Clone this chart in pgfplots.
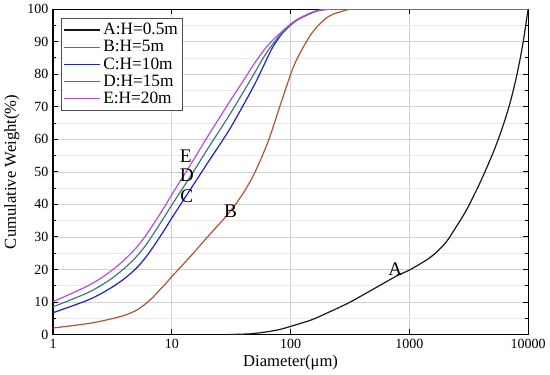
\documentclass[border=0pt]{standalone}
\usepackage{pgfplots}
\pgfplotsset{compat=1.18}
\usepackage{fontspec}
\setmainfont{Liberation Serif}
\definecolor{cA}{RGB}{15,30,22}
\definecolor{cB}{RGB}{176,84,52}
\definecolor{cC}{RGB}{30,30,210}
\definecolor{cD}{RGB}{55,125,128}
\definecolor{cE}{RGB}{178,78,228}
\begin{document}
\begin{tikzpicture}
\begin{axis}[
  xmode=log, log basis x=10,
  scale only axis, width=357pt, height=244.5pt,
  xmin=1, xmax=10000, ymin=0, ymax=100,
  xtick={1,10,100,1000,10000}, xticklabels={1,10,100,1000,10000},
  ytick={0,10,...,100}, minor y tick num=1,
  /pgf/number format/assume math mode=true,
  tick align=inside,
  major tick length=4pt, minor tick length=2.5pt,
  tick style={black, line width=0.7pt},
  grid=both,
  major grid style={black!18, line width=0.5pt},
  minor grid style={black!8, line width=0.4pt},
  axis line style={line width=0.9pt},
  tick label style={font=\fontsize{10.5}{12}\selectfont},
  label style={font=\fontsize{12.5}{14}\selectfont},
  xlabel={Diameter(μm)},
  ylabel={Cumulative Weight(\%)},
  xlabel style={yshift=2pt},
  ylabel style={yshift=-1pt},
  legend style={at={(rel axis cs:0.017,0.972)}, anchor=north west,
    draw=black!70, line width=0.5pt, font=\fontsize{13}{13}\selectfont,
    inner sep=1.5pt, row sep=-1.2pt, cells={anchor=west}},
  legend image code/.code={\draw[#1] (0cm,0cm) -- (0.95cm,0cm);},
  every axis plot/.append style={line width=0.9pt, smooth, tension=0.5},
]
\addplot[cA] coordinates {(30,0)(45,0.2)(60,0.7)(80,1.5)(100,2.5)(150,4.5)(200,6.5)(300,9.5)(400,12)(500,14)(800,18.2)(1000,19.8)(1500,23.7)(2000,28)(2500,33.3)(3000,38)(3500,42.8)(4000,47.2)(5000,55.3)(6000,63)(7000,70.8)(8000,79.4)(9000,89)(10000,100)};
\addlegendentry{A:H=0.5m}
\addplot[cB] coordinates {(1,2)(2,3.4)(3,4.7)(4,5.9)(5,7.4)(6,9.4)(7,11.6)(8,13.9)(9,15.9)(10,17.8)(15,24.8)(20,30)(30,37.2)(40,43.5)(50,49.8)(65,59.5)(85,72.3)(109,83.4)(151,92.6)(208,97.7)(288,99.6)(350,100)(1000,100)(10000,100)};
\addlegendentry{B:H=5m}
\addplot[cC] coordinates {(1,6.7)(2,10.7)(3,14.1)(4,17.2)(5,20.3)(6,23.6)(7,27)(8,30.2)(9,33.1)(10,35.8)(15,45.7)(20,52.7)(30,62.5)(40,70.5)(50,77)(60,83)(70,88)(85,92.5)(110,96.3)(160,99.2)(220,100)(500,100)(10000,100)};
\addlegendentry{C:H=10m}
\addplot[cD] coordinates {(1,8.5)(2,13)(3,16.8)(4,20.4)(5,23.8)(6,27.3)(7,30.9)(8,34.2)(9,37.1)(10,39.8)(15,49.7)(20,57)(30,67)(40,74.5)(50,80.5)(60,85.5)(70,89)(85,92.8)(110,96.4)(160,99.3)(220,100)(500,100)(10000,100)};
\addlegendentry{D:H=15m}
\addplot[cE] coordinates {(1,10.1)(2,15.1)(3,19.2)(4,23)(5,26.6)(6,30.3)(7,33.9)(8,37.2)(9,40.2)(10,43)(15,53.3)(20,60.8)(30,71)(40,78)(50,83.5)(60,87.5)(70,90.3)(85,93.2)(110,96.5)(160,99.3)(220,100)(500,100)(10000,100)};
\addlegendentry{E:H=20m}
\node[font=\fontsize{14.5}{15}\selectfont] at (axis cs:13.1,54.9) {E};
\node[font=\fontsize{14.5}{15}\selectfont] at (axis cs:13.4,49) {D};
\node[font=\fontsize{14.5}{15}\selectfont] at (axis cs:13.4,42.6) {C};
\node[font=\fontsize{14.5}{15}\selectfont] at (axis cs:31.3,38) {B};
\node[font=\fontsize{14.5}{15}\selectfont] at (axis cs:763,20.2) {A};
\end{axis}
\end{tikzpicture}
\end{document}
